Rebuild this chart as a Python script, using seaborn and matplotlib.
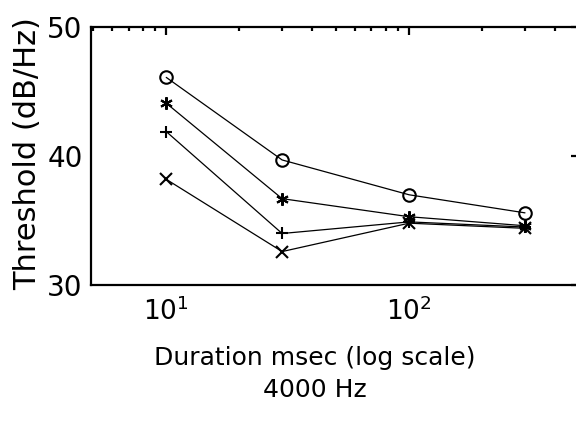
import matplotlib
matplotlib.use("Agg")
import matplotlib.pyplot as plt
import seaborn as sns
import pandas as pd
from matplotlib.ticker import LogLocator, NullLocator, FixedLocator

# Detection threshold versus tone duration at 4000 Hz, four listening conditions
durations = [10, 30, 100, 300]
series_names = ["A", "B", "C", "D"]
thresh_a = [46.1, 39.7, 37.0, 35.6]
thresh_b = [44.1, 36.7, 35.3, 34.6]
thresh_c = [41.9, 34.0, 34.9, 34.5]
thresh_d = [38.2, 32.6, 34.8, 34.4]
y_ticks = [30, 40, 50]

sns.set_theme(style="white")
plt.rcParams["font.family"] = ["DejaVu Sans"]

frames = []
for name, vals in zip(series_names, [thresh_a, thresh_b, thresh_c, thresh_d]):
    frames.append(pd.DataFrame({"duration": durations, "threshold": vals, "series": name}))
df = pd.concat(frames, ignore_index=True)

marker_styles = {"A": "o", "B": (6, 2, 0), "C": "+", "D": "x"}

fig = plt.figure(figsize=(5.76, 4.23), dpi=100)
ax = fig.add_axes([0.158, 0.326, 0.847, 0.610])

for name in series_names:
    sub = df[df["series"] == name]
    sns.lineplot(data=sub, x="duration", y="threshold", ax=ax, color="black",
                 linewidth=0.9, marker=marker_styles[name], markersize=9,
                 markerfacecolor="none", markeredgecolor="black",
                 markeredgewidth=1.5, legend=False)

ax.set_xscale("log")
ax.set_xlim(4.9, 500)
ax.set_ylim(30, 50)
ax.set_yticks(y_ticks)
ax.yaxis.set_minor_locator(NullLocator())
ax.xaxis.set_major_locator(FixedLocator([10, 100]))
ax.xaxis.set_minor_locator(LogLocator(base=10, subs=range(2, 10)))

for side in ["top", "right", "bottom", "left"]:
    ax.spines[side].set_visible(True)
    ax.spines[side].set_color("black")
    ax.spines[side].set_linewidth(1.6)

ax.tick_params(which="both", direction="in", top=True, right=True,
               colors="black")
ax.tick_params(axis="y", labelsize=20, pad=6)
ax.tick_params(axis="x", labelsize=19, pad=9)
ax.tick_params(which="major", length=6, width=1.6)
ax.tick_params(which="minor", length=3, width=1.6)

ax.set_xlabel("Duration msec (log scale)\n4000 Hz", fontsize=18, color="black",
              linespacing=1.45)
ax.set_ylabel("Threshold (dB/Hz)", fontsize=22, color="black")
ax.xaxis.set_label_coords(0.459, -0.235)
ax.yaxis.set_label_coords(-0.13, 0.51)
ax.xaxis.label.set_va("top")
ax.yaxis.label.set_va("center")

fig.savefig("out.png", dpi=100, facecolor="white")
